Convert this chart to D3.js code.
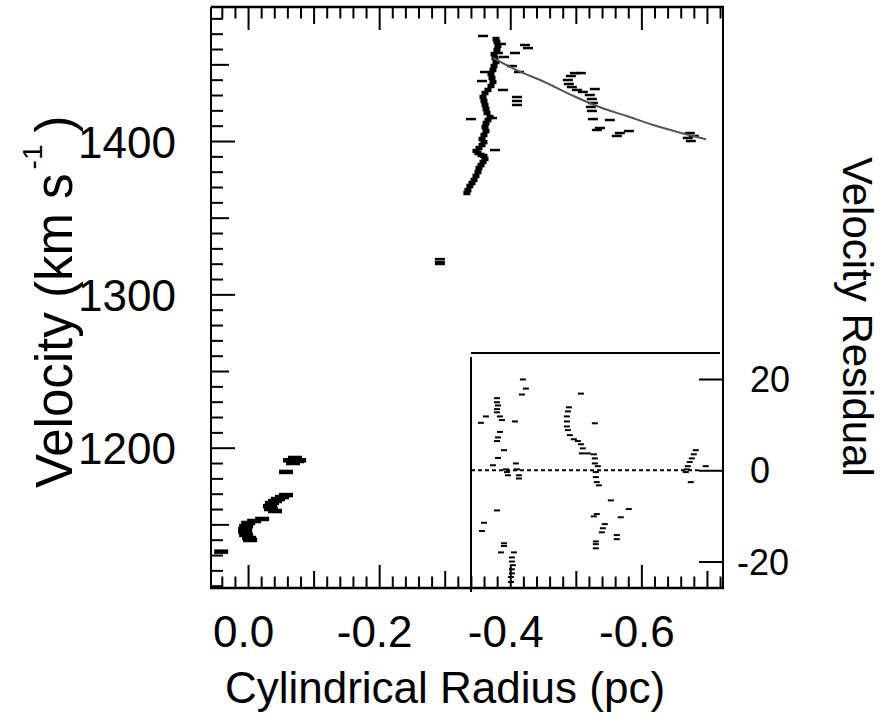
<!DOCTYPE html>
<html>
<head>
<meta charset="utf-8">
<script src="https://cdn.jsdelivr.net/npm/d3@7"></script>
<style>
  body { margin: 0; background: #fff; }
  svg { display: block; }
  text { font-family: "Liberation Sans", Arial, Helvetica, sans-serif; fill: #000; }
</style>
</head>
<body>
<svg id="chart" width="887" height="724"></svg>
<script>
"use strict";

// inner clump near the centre (bottom left)
const innerX = [-0.0716, -0.0747, -0.0686, -0.0640, -0.0780, -0.0579,
  -0.0579, -0.0518, -0.0456, -0.0411, -0.0364, -0.0334, -0.0349, -0.0411,
  -0.0215, -0.0093, -0.0002, 0.0029, 0.0044, 0.0044, 0.0029, -0.0017, -0.0032, 0.0410];
const innerY = [1193.3, 1191.3, 1190.0, 1191.8, 1191.8, 1184.2,
  1169.1, 1167.8, 1166.5, 1165.2, 1163.9, 1161.9, 1160.0, 1158.7,
  1153.5, 1152.2, 1150.9, 1148.9, 1147.0, 1145.0, 1143.1, 1141.1, 1139.8, 1132.2];

// isolated point
const midX = [-0.2927, -0.2927, -0.2927];
const midY = [1323.0, 1321.1, 1319.8];

// rising branch of the outer arc
const branchX = [-0.3338, -0.3354, -0.3384, -0.3416, -0.3447, -0.3477, -0.3508, -0.3523,
  -0.3554, -0.3584, -0.3615, -0.3599, -0.3554, -0.3508, -0.3477, -0.3523, -0.3569,
  -0.3599, -0.3569, -0.3599, -0.3630, -0.3615, -0.3630, -0.3660, -0.3691, -0.3645,
  -0.3630, -0.3615, -0.3599, -0.3584, -0.3615, -0.3660, -0.3706, -0.3736, -0.3721,
  -0.3706, -0.3736, -0.3752, -0.3782, -0.3767, -0.3752, -0.3797, -0.3812, -0.3797,
  -0.3782];
const branchY = [1366.1, 1368.0, 1370.7, 1372.6, 1374.6, 1377.2, 1379.8, 1382.4,
  1384.3, 1386.3, 1388.3, 1390.2, 1390.9, 1392.2, 1393.5, 1395.4, 1397.4,
  1399.3, 1401.3, 1403.9, 1406.5, 1409.1, 1411.7, 1413.7, 1415.7, 1418.3,
  1420.9, 1423.5, 1426.1, 1428.7, 1431.3, 1433.3, 1435.9, 1438.5, 1441.1,
  1443.7, 1446.3, 1448.9, 1451.5, 1454.1, 1456.7, 1459.3, 1462.0, 1464.6,
  1466.5];

// scattered points around the branch and along the fit
const outerX = [-0.3584, -0.3399, -0.3767, -0.3615, -0.3569, -0.3888, -0.3904, -0.4026,
  -0.4133, -0.4102, -0.4102, -0.4102, -0.4224, -0.4270, -0.4072, -0.3812, -0.3721,
  -0.3857,
  -0.4985, -0.4924, -0.4878, -0.4893, -0.4939, -0.5016, -0.5107, -0.5076, -0.5290,
  -0.5213, -0.5245, -0.5260, -0.5229, -0.5245, -0.5260, -0.5519, -0.5367, -0.5321,
  -0.5672, -0.5626, -0.5809, -0.6739, -0.6800, -0.6708, -0.6754];
const outerY = [1468.5, 1414.3, 1394.1, 1445.0, 1439.1, 1433.3, 1454.8, 1448.9,
  1445.0, 1428.7, 1426.1, 1423.5, 1462.6, 1460.6, 1457.4, 1457.4, 1415.0,
  1463.3,
  1444.3, 1442.4, 1439.8, 1437.2, 1435.2, 1433.3, 1432.0, 1444.3, 1433.9,
  1430.0, 1427.4, 1424.8, 1422.2, 1419.6, 1414.3, 1413.7, 1408.5, 1407.2,
  1405.2, 1403.3, 1406.5, 1405.2, 1403.3, 1402.0, 1400.0];

// fitted rotation curve
const fitX = [-0.3735, -0.4150, -0.4456, -0.4963, -0.5370, -0.5777, -0.6183, -0.6590, -0.6986];
const fitY = [1454.3, 1445.2, 1439.8, 1429.4, 1422.0, 1416.3, 1410.4, 1405.4, 1401.1];

// residuals (inset)
const residX = [-0.4192, -0.4238, -0.4177, -0.3797, -0.3797, -0.3812, -0.3797, -0.3797,
  -0.3552, -0.3628, -0.3842, -0.3873, -0.4071, -0.3842, -0.3812, -0.3797, -0.3904,
  -0.3812, -0.3736, -0.3934, -0.3949, -0.3965, -0.4086, -0.4101, -0.4132, -0.4132,
  -0.3797, -0.3599, -0.3568, -0.3904, -0.3904, -0.3858, -0.4056, -0.4025, -0.4025,
  -0.4040, -0.4025, -0.4025, -0.4010, -0.4010,
  -0.5077, -0.4894, -0.4879, -0.4863, -0.4863, -0.4863, -0.4879, -0.4909, -0.4970,
  -0.5031, -0.5077, -0.5107, -0.5092, -0.5183, -0.5275, -0.5290, -0.5290, -0.5290,
  -0.5336, -0.5305, -0.5305, -0.5320, -0.5351, -0.5534, -0.5808, -0.5686, -0.5275,
  -0.5320, -0.5442, -0.5412, -0.5397, -0.5625, -0.5625, -0.5305, -0.5305, -0.5305,
  -0.6830, -0.6799, -0.6769, -0.6738, -0.6708, -0.6692, -0.6677, -0.6982, -0.6753];
const residY = [19.9, 17.9, 16.6, 15.8, 14.9, 14.2, 13.4, 12.7,
  10.4, 11.8, 11.8, 11.0, 10.7, 8.4, 7.2, 6.4, 4.4,
  2.7, 1.1, 0.2, -0.4, -1.1, 1.5, 0.2, -1.1, -1.8,
  -8.8, -11.5, -13.3, -16.0, -16.6, -18.0, -18.0, -19.1, -20.0,
  -20.8, -21.7, -22.6, -23.4, -24.5,
  16.8, 13.8, 12.9, 11.8, 10.7, 9.6, 8.8, 7.7, 6.8,
  6.4, 5.7, 4.8, 3.7, 3.7, 3.5, 10.3, 2.6, 1.5,
  0.9, -0.4, -1.5, -2.6, -3.3, -6.6, -8.5, -10.3, -10.1,
  -9.6, -11.8, -12.7, -13.6, -14.2, -15.1, -15.6, -16.2, -17.1,
  4.4, 3.5, 2.6, 1.8, 0.9, 0.2, -0.4, 0.9, -2.6];

const xLabelTicks = [0, -0.2, -0.4, -0.6];
const yLabelTicks = [1200, 1300, 1400];
const residTicks = [20, 0, -20];

const plot = { left: 211, right: 723, top: 7, bottom: 588 };
const inset = { left: 471, top: 353 };

const svg = d3.select("#chart");

const x = d3.scaleLinear().domain([0.0565, -0.7245]).range([plot.left, plot.right]);
const y = d3.scaleLinear().domain([1108.5, 1487.4]).range([plot.bottom, plot.top]);
const yRes = d3.scaleLinear().domain([-25.8, 25.7]).range([plot.bottom, inset.top]);

// tick values: every 0.02 pc and every 10 km/s
const xTicksAll = d3.range(2, -37, -1).map((k) => k / 50);
const yTicksAll = d3.range(1110, 1490, 10);

function xTickLen(v) {
  const k = Math.round(v * 50);
  if (k % 10 === 0) return 23;
  if (k % 5 === 0) return 17;
  return 11.5;
}
function yTickLen(v) {
  if (v % 100 === 0) return 24;
  if (v % 50 === 0) return 18;
  return 12;
}

// one d3 axis per tick length, ticks pointing inward
function tickAxis(axisFn, scale, values, len, transform) {
  const g = svg.append("g")
    .attr("transform", transform)
    .call(axisFn(scale).tickValues(values).tickSize(-len).tickFormat(""));
  g.select(".domain").remove();
  g.selectAll(".tick line").attr("stroke", "#000").attr("stroke-width", 2);
  return g;
}

[23, 17, 11.5].forEach((len) => {
  const vals = xTicksAll.filter((v) => xTickLen(v) === len);
  tickAxis(d3.axisBottom, x, vals, len, `translate(0,${plot.bottom})`);
  tickAxis(d3.axisTop, x, vals, len, `translate(0,${plot.top})`);
});
[24, 18, 12].forEach((len) => {
  const vals = yTicksAll.filter((v) => yTickLen(v) === len);
  tickAxis(d3.axisLeft, y, vals, len, `translate(${plot.left},0)`);
});

// x labels
const xLab = svg.append("g")
  .attr("transform", `translate(0,${plot.bottom})`)
  .call(d3.axisBottom(x).tickValues(xLabelTicks).tickSize(0)
    .tickFormat((d) => (d === 0 ? "0.0" : d3.format(".1f")(d).replace("−", "-"))));
xLab.select(".domain").remove();
xLab.selectAll("text")
  .attr("y", 59).attr("dy", 0).attr("dx", -5)
  .attr("font-size", 44).attr("fill", "#000");

// y labels
const yLab = svg.append("g")
  .attr("transform", `translate(${plot.left},0)`)
  .call(d3.axisLeft(y).tickValues(yLabelTicks).tickSize(0).tickFormat(d3.format("d")));
yLab.select(".domain").remove();
yLab.selectAll("text")
  .attr("x", -35).attr("dy", 16)
  .attr("font-size", 44).attr("fill", "#000");

// residual axis on the right
const rAx = svg.append("g")
  .attr("transform", `translate(${plot.right},0)`)
  .call(d3.axisRight(yRes).tickValues(residTicks).tickSize(-24)
    .tickFormat((d) => String(d)));
rAx.select(".domain").remove();
rAx.selectAll(".tick line").attr("stroke", "#000").attr("stroke-width", 2);
rAx.selectAll("text")
  .attr("x", (d) => (d < 0 ? 14 : 27)).attr("dy", 12.5)
  .attr("font-size", 36).attr("fill", "#000");

// frame
const frame = svg.append("g").attr("stroke", "#000").attr("fill", "none");
frame.append("line").attr("x1", plot.left).attr("x2", plot.right + 1)
  .attr("y1", plot.top).attr("y2", plot.top).attr("stroke-width", 2.5);
frame.append("line").attr("x1", plot.left).attr("x2", plot.right + 1)
  .attr("y1", plot.bottom).attr("y2", plot.bottom).attr("stroke-width", 2.5);
frame.append("line").attr("x1", plot.left).attr("x2", plot.left)
  .attr("y1", plot.top).attr("y2", plot.bottom + 1).attr("stroke-width", 2);
frame.append("line").attr("x1", plot.right).attr("x2", plot.right)
  .attr("y1", plot.top).attr("y2", plot.bottom + 1).attr("stroke-width", 2);

// inset box edges
frame.append("line").attr("x1", inset.left).attr("x2", plot.right - 3)
  .attr("y1", inset.top).attr("y2", inset.top).attr("stroke-width", 2);
frame.append("line").attr("x1", inset.left).attr("x2", inset.left)
  .attr("y1", inset.top + 4).attr("y2", plot.bottom + 4).attr("stroke-width", 2);

// zero line
svg.append("line")
  .attr("x1", inset.left).attr("x2", plot.right - 24)
  .attr("y1", yRes(0)).attr("y2", yRes(0))
  .attr("stroke", "#000").attr("stroke-width", 2)
  .attr("stroke-dasharray", "4,3");

// data dashes
function dashes(xs, ys, yScale, half, sw) {
  svg.append("g")
    .selectAll("line")
    .data(d3.zip(xs, ys))
    .join("line")
    .attr("x1", (d) => x(d[0]) - half)
    .attr("x2", (d) => x(d[0]) + half)
    .attr("y1", (d) => yScale(d[1]))
    .attr("y2", (d) => yScale(d[1]))
    .attr("stroke", "#000")
    .attr("stroke-width", sw);
}
dashes(innerX, innerY, y, 7, 4.5);
dashes(midX, midY, y, 5, 2.5);
dashes(branchX, branchY, y, 3.5, 4.5);
dashes(outerX, outerY, y, 5, 2.5);
dashes(residX, residY, yRes, 3, 2);

// fit curve
svg.append("path")
  .datum(d3.zip(fitX, fitY))
  .attr("fill", "none")
  .attr("stroke", "#555")
  .attr("stroke-width", 2)
  .attr("d", d3.line().x((d) => x(d[0])).y((d) => y(d[1])).curve(d3.curveMonotoneX));

// titles
svg.append("text")
  .attr("x", 445).attr("y", 703)
  .attr("text-anchor", "middle")
  .attr("font-size", 44)
  .text("Cylindrical Radius (pc)");

const yt = svg.append("text")
  .attr("transform", "translate(72,488) rotate(-90)")
  .attr("font-size", 51);
yt.append("tspan").text("Velocity (km s");
yt.append("tspan").attr("font-size", 28).attr("dx", 4).attr("dy", -30).text("-1");
yt.append("tspan").attr("dx", 12).attr("dy", 30).text(")");

svg.append("text")
  .attr("transform", "translate(843,157) rotate(90)")
  .attr("font-size", 42)
  .text("Velocity Residual");
</script>
</body>
</html>
